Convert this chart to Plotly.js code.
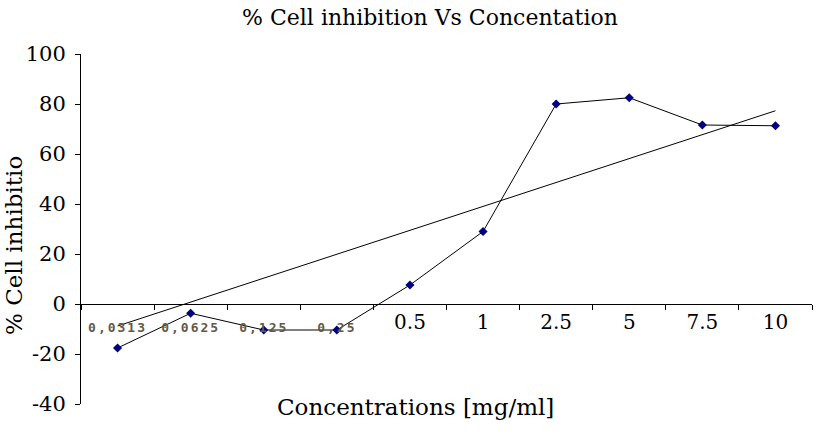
<!DOCTYPE html>
<html><head><meta charset="utf-8">
<script src="https://cdn.plot.ly/plotly-3.0.1.min.js"></script>
<style>html,body{margin:0;padding:0;background:#fff}</style>
</head><body><div id="chart" style="width:819px;height:435px"></div>
<script>
// Data
const categories = ['0,0313', '0,0625', '0,125', '0,25', '0.5', '1', '2.5', '5', '7.5', '10'];
const inhibition = [-17.6, -3.7, -10.4, -10.4, 7.6, 29, 80, 82.5, 71.6, 71.3];
const trendCategories = ['0,0313', '10'];
const trendValues = [-8.8, 77.3];
const yTickValues = [-40, -20, 0, 20, 40, 60, 80, 100];
const yTickText = ['-40', '-20', '0', '20', '40', '60', '80', '100'];

const smallStyle = 'font-family:DejaVu Sans Mono;font-weight:bold;font-size:13px;letter-spacing:2px;fill:#625a46;baseline-shift:-3px';
const tickText = categories.map(c => c.indexOf(',') >= 0 ? '<span style="' + smallStyle + '">' + c + '</span>' : c);

const serif = 'DejaVu Serif';
const traces = [
  {
    x: trendCategories, y: trendValues, type: 'scatter', mode: 'lines',
    line: {color: '#000', width: 1}, hoverinfo: 'skip', showlegend: false
  },
  {
    x: categories, y: inhibition, type: 'scatter', mode: 'lines+markers',
    line: {color: '#000', width: 1},
    marker: {symbol: 'diamond', size: 7, color: '#000080'},
    showlegend: false
  }
];

const layout = {
  width: 819, height: 435,
  margin: {l: 81, r: 7, t: 54, b: 31},
  paper_bgcolor: '#fff', plot_bgcolor: '#fff',
  font: {family: serif, color: '#000'},
  title: {text: '% Cell inhibition Vs Concentation', font: {family: serif, size: 22, color: '#000'},
          x: 0.525, xref: 'container', xanchor: 'center', y: 1 - 17 / 435, yref: 'container', yanchor: 'middle'},
  xaxis: {
    type: 'category', categoryorder: 'array', categoryarray: categories,
    range: [-0.5, 9.5],
    tickvals: categories, ticktext: tickText,
    anchor: 'free', position: 40 / 140,
    showline: true, linecolor: '#000', linewidth: 1,
    ticks: 'outside', tickson: 'boundaries', ticklen: 5, tickcolor: '#000',
    showgrid: false, zeroline: false,
    tickfont: {family: serif, size: 20, color: '#000'}
  },
  yaxis: {
    range: [-40, 100], tickvals: yTickValues, ticktext: yTickText,
    showline: true, linecolor: '#000', linewidth: 1,
    ticks: 'outside', ticklen: 5, tickcolor: '#000',
    showgrid: false, zeroline: false,
    ticklabelstandoff: 5,
    tickfont: {family: serif, size: 21, color: '#000'}
  },
  annotations: [
    {text: 'Concentrations [mg/ml]', xref: 'paper', yref: 'paper',
     x: (415 - 81) / 731, y: (404 - 407) / 350, xanchor: 'center', yanchor: 'middle',
     showarrow: false, font: {family: serif, size: 23, color: '#000'}},
    {text: '% Cell inhibitio', xref: 'paper', yref: 'paper', textangle: -90,
     x: (14 - 81) / 731, y: (404 - 246) / 350, xanchor: 'center', yanchor: 'middle',
     showarrow: false, font: {family: serif, size: 23, color: '#000'}}
  ]
};

Plotly.newPlot('chart', traces, layout, {displayModeBar: false, staticPlot: true});
</script></body></html>
